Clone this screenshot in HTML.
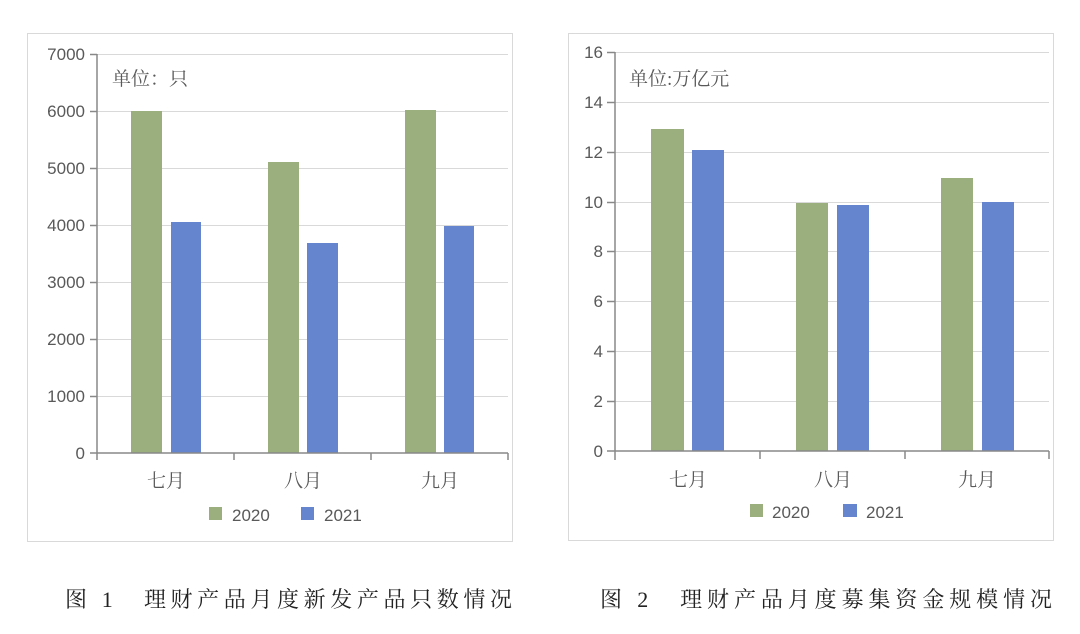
<!DOCTYPE html>
<html><head><meta charset="utf-8"><style>
body{margin:0;background:#fff;width:1080px;height:634px;overflow:hidden}
svg{display:block}
.t{font-family:"Liberation Sans","Noto Sans CJK SC",sans-serif;fill:#595959;font-size:17px}
.c{font-family:"Liberation Serif","Noto Serif CJK SC",serif;fill:#595959;font-size:19px}
.cap{font-family:"Liberation Serif","Noto Serif CJK SC",serif;fill:#222;font-size:22px}
</style></head><body>
<svg width="1080" height="634" viewBox="0 0 1080 634">
<rect x="27.5" y="33.5" width="485" height="508" fill="#fff" stroke="#d9d9d9"/>
<rect x="568.5" y="33.5" width="485" height="507" fill="#fff" stroke="#d9d9d9"/>
<g stroke="#d9d9d9" stroke-width="1">
<line x1="97" x2="508" y1="54.5" y2="54.5"/><line x1="97" x2="508" y1="111.5" y2="111.5"/>
<line x1="97" x2="508" y1="168.5" y2="168.5"/><line x1="97" x2="508" y1="225.5" y2="225.5"/>
<line x1="97" x2="508" y1="282.5" y2="282.5"/><line x1="97" x2="508" y1="339.5" y2="339.5"/>
<line x1="97" x2="508" y1="396.5" y2="396.5"/>
</g>
<g fill="#9BAF7E"><rect x="131" y="111" width="31" height="342"/><rect x="268" y="162" width="31" height="291"/><rect x="405" y="110" width="31" height="343"/></g>
<g fill="#6685CF"><rect x="171" y="222" width="30" height="231"/><rect x="307" y="243" width="31" height="210"/><rect x="444" y="226" width="30" height="227"/></g>
<g stroke="#888" stroke-width="1.5" fill="none">
<line x1="97" y1="54" x2="97" y2="460"/><line x1="97" y1="453" x2="508" y2="453"/>
<line x1="234" y1="453" x2="234" y2="460"/><line x1="371" y1="453" x2="371" y2="460"/><line x1="508" y1="453" x2="508" y2="460"/>
<line x1="90" x2="97" y1="54.5" y2="54.5"/><line x1="90" x2="97" y1="111.5" y2="111.5"/><line x1="90" x2="97" y1="168.5" y2="168.5"/><line x1="90" x2="97" y1="225.5" y2="225.5"/><line x1="90" x2="97" y1="282.5" y2="282.5"/><line x1="90" x2="97" y1="339.5" y2="339.5"/><line x1="90" x2="97" y1="396.5" y2="396.5"/><line x1="90" x2="97" y1="453" y2="453"/>
</g>
<g class="t" text-anchor="end">
<text x="85" y="60">7000</text><text x="85" y="117">6000</text><text x="85" y="174">5000</text><text x="85" y="231">4000</text><text x="85" y="288">3000</text><text x="85" y="345">2000</text><text x="85" y="402">1000</text><text x="85" y="459">0</text>
</g>
<text class="c" x="112" y="85" font-size="22">单位：只</text>
<g class="c" text-anchor="middle"><text x="166" y="487">七月</text><text x="303" y="487">八月</text><text x="440" y="487">九月</text></g>
<rect x="209" y="507" width="13" height="13" fill="#9BAF7E"/><text class="t" x="232" y="521">2020</text>
<rect x="301" y="507" width="13" height="13" fill="#6685CF"/><text class="t" x="324" y="521">2021</text>
<g stroke="#d9d9d9" stroke-width="1">
<line x1="615" x2="1049" y1="52.5" y2="52.5"/><line x1="615" x2="1049" y1="102.5" y2="102.5"/><line x1="615" x2="1049" y1="152.5" y2="152.5"/><line x1="615" x2="1049" y1="202.5" y2="202.5"/><line x1="615" x2="1049" y1="251.5" y2="251.5"/><line x1="615" x2="1049" y1="301.5" y2="301.5"/><line x1="615" x2="1049" y1="351.5" y2="351.5"/><line x1="615" x2="1049" y1="401.5" y2="401.5"/>
</g>
<g fill="#9BAF7E"><rect x="651" y="129" width="33" height="322"/><rect x="796" y="203" width="32" height="248"/><rect x="941" y="178" width="32" height="273"/></g>
<g fill="#6685CF"><rect x="692" y="150" width="32" height="301"/><rect x="837" y="205" width="32" height="246"/><rect x="982" y="202" width="32" height="249"/></g>
<g stroke="#888" stroke-width="1.5" fill="none">
<line x1="615" y1="52" x2="615" y2="460"/><line x1="615" y1="451" x2="1049" y2="451"/>
<line x1="760" y1="451" x2="760" y2="459"/><line x1="905" y1="451" x2="905" y2="459"/><line x1="1049" y1="451" x2="1049" y2="459"/>
<line x1="607" x2="615" y1="52.5" y2="52.5"/><line x1="607" x2="615" y1="102.5" y2="102.5"/><line x1="607" x2="615" y1="152.5" y2="152.5"/><line x1="607" x2="615" y1="202.5" y2="202.5"/><line x1="607" x2="615" y1="251.5" y2="251.5"/><line x1="607" x2="615" y1="301.5" y2="301.5"/><line x1="607" x2="615" y1="351.5" y2="351.5"/><line x1="607" x2="615" y1="401.5" y2="401.5"/><line x1="607" x2="615" y1="451" y2="451"/>
</g>
<g class="t" text-anchor="end">
<text x="603" y="58">16</text><text x="603" y="108">14</text><text x="603" y="158">12</text><text x="603" y="208">10</text><text x="603" y="257">8</text><text x="603" y="307">6</text><text x="603" y="357">4</text><text x="603" y="407">2</text><text x="603" y="457">0</text>
</g>
<text class="c" x="629" y="85" font-size="22">单位:万亿元</text>
<g class="c" text-anchor="middle"><text x="688" y="486">七月</text><text x="833" y="486">八月</text><text x="977" y="486">九月</text></g>
<rect x="750" y="504" width="13" height="13" fill="#9BAF7E"/><text class="t" x="772" y="518">2020</text>
<rect x="843" y="504" width="14" height="13" fill="#6685CF"/><text class="t" x="866" y="518">2021</text>
<text class="cap" x="65" y="607" textLength="447" lengthAdjust="spacing">图 1　理财产品月度新发产品只数情况</text>
<text class="cap" x="600" y="607" textLength="452" lengthAdjust="spacing">图 2　理财产品月度募集资金规模情况</text>
</svg>
</body></html>
